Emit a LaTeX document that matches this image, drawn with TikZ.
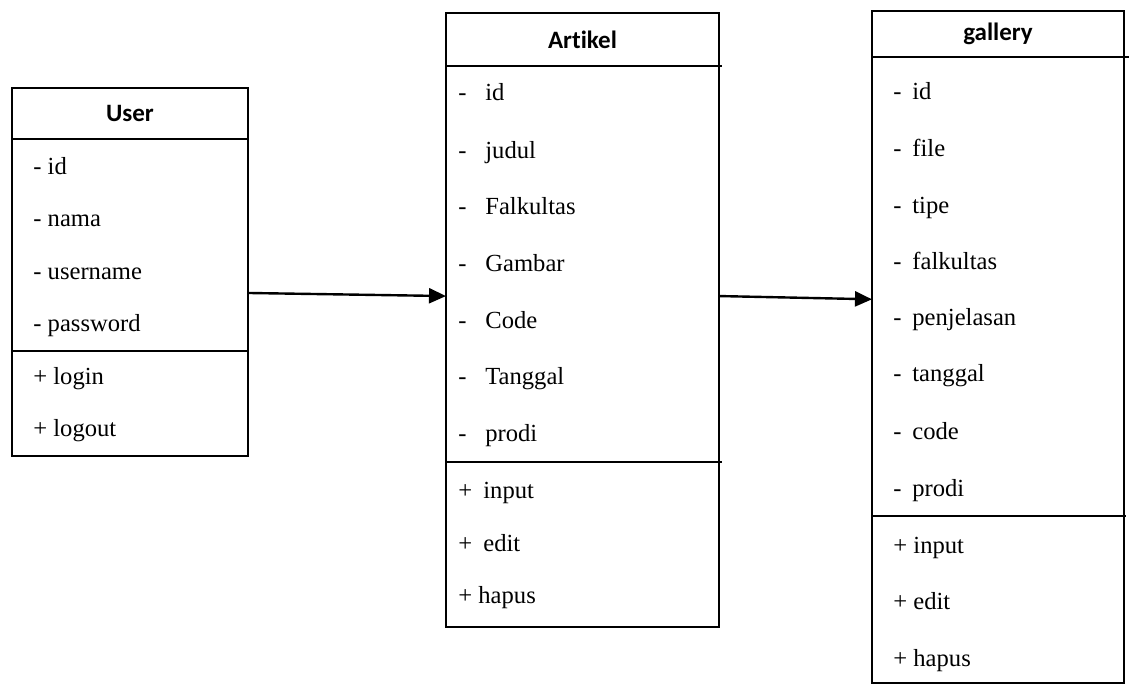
\documentclass[tikz,border=0pt]{standalone}
\usepackage{fontspec}
\setmainfont{Liberation Serif}
\newfontfamily\judulfont{Carlito}[Ligatures=NoCommon]
\usetikzlibrary{arrows.meta, calc}

\tikzset{
  kelas/.style={draw, line width=1.2pt, inner sep=0pt, outer sep=0pt},
  judul/.style={inner sep=0pt, font=\judulfont\bfseries\fontsize{12.5}{15}\selectfont},
  isi/.style={anchor=west, inner sep=0pt, text height=8.5pt, text depth=2pt, font=\fontsize{12.3}{14}\selectfont},
  garis/.style={line width=0.8pt},
  panah/.style={line width=1.2pt, -{Triangle[length=8.5pt, width=7.5pt]}}
}

\begin{document}
\begin{tikzpicture}[x=0.5pt, y=-0.5pt]  % 1 satuan = 1 piksel
\useasboundingbox (0,0) rectangle (1129,684);

% Kelas User
\node[kelas, minimum width=118pt, minimum height=184pt] (user) at (130,272) {};
\node[judul] (userjudul) at (130,113) {User};
\draw[garis] (user.north west) ++(0,51) -- ++(236,0);   % garis judul
\draw[garis] (user.north west) ++(0,263) -- ++(236,0);  % garis operasi
\node[isi] (u1) at (33,168) {- id};
\node[isi] (u2) at (33,220) {- nama};
\node[isi] (u3) at (33,273) {- username};
\node[isi] (u4) at (33,325) {- password};
\node[isi] (u5) at (33,378) {+ login};
\node[isi] (u6) at (33,430) {+ logout};

% Kelas Artikel
\node[kelas, minimum width=136.5pt, minimum height=307pt] (artikel) at (582.5,320) {};
\node[judul] (artikeljudul) at (582.5,40) {Artikel};
\draw[garis] (artikel.north west) ++(0,53) -- ++(276,0);   % garis judul
\draw[garis] (artikel.north west) ++(0,449) -- ++(276,0);  % garis operasi
\node[isi] (a1) at (458,94) {\makebox[13.5pt][l]{-}id};
\node[isi] (a2) at (458,152) {\makebox[13.5pt][l]{-}judul};
\node[isi] (a3) at (458,208) {\makebox[13.5pt][l]{-}Falkultas};
\node[isi] (a4) at (458,265) {\makebox[13.5pt][l]{-}Gambar};
\node[isi] (a5) at (458,322) {\makebox[13.5pt][l]{-}Code};
\node[isi] (a6) at (458,378) {\makebox[13.5pt][l]{-}Tanggal};
\node[isi] (a7) at (458,435) {\makebox[13.5pt][l]{-}prodi};
\node[isi] (a8) at (458,492) {\makebox[12.5pt][l]{+}input};
\node[isi] (a9) at (458,545) {\makebox[12.5pt][l]{+}edit};
\node[isi] (a10) at (458,597) {+ hapus};

% Kelas gallery
\node[kelas, minimum width=126pt, minimum height=336pt] (gallery) at (998,347) {};
\node[judul] (galleryjudul) at (998,34) {gallery};
\draw[garis] (gallery.north west) ++(0,46) -- ++(257,0);   % garis judul
\draw[garis] (gallery.north west) ++(0,505) -- ++(254,0);  % garis operasi
\node[isi] (g1) at (893,93) {\makebox[9.5pt][l]{-}id};
\node[isi] (g2) at (893,150) {\makebox[9.5pt][l]{-}file};
\node[isi] (g3) at (893,207) {\makebox[9.5pt][l]{-}tipe};
\node[isi] (g4) at (893,263) {\makebox[9.5pt][l]{-}falkultas};
\node[isi] (g5) at (893,319) {\makebox[9.5pt][l]{-}penjelasan};
\node[isi] (g6) at (893,375) {\makebox[9.5pt][l]{-}tanggal};
\node[isi] (g7) at (893,433) {\makebox[9.5pt][l]{-}code};
\node[isi] (g8) at (893,490) {\makebox[9.5pt][l]{-}prodi};
\node[isi] (g9) at (893,547) {+ input};
\node[isi] (g10) at (893,603) {+ edit};
\node[isi] (g11) at (893,660) {+ hapus};

% Relasi
\draw[panah] ($(user.north east)!0.557!(user.south east)$) -- ($(artikel.north west)!0.461!(artikel.south west)$);
\draw[panah] ($(artikel.north east)!0.461!(artikel.south east)$) -- ($(gallery.north west)!0.429!(gallery.south west)$);
\end{tikzpicture}
\end{document}
